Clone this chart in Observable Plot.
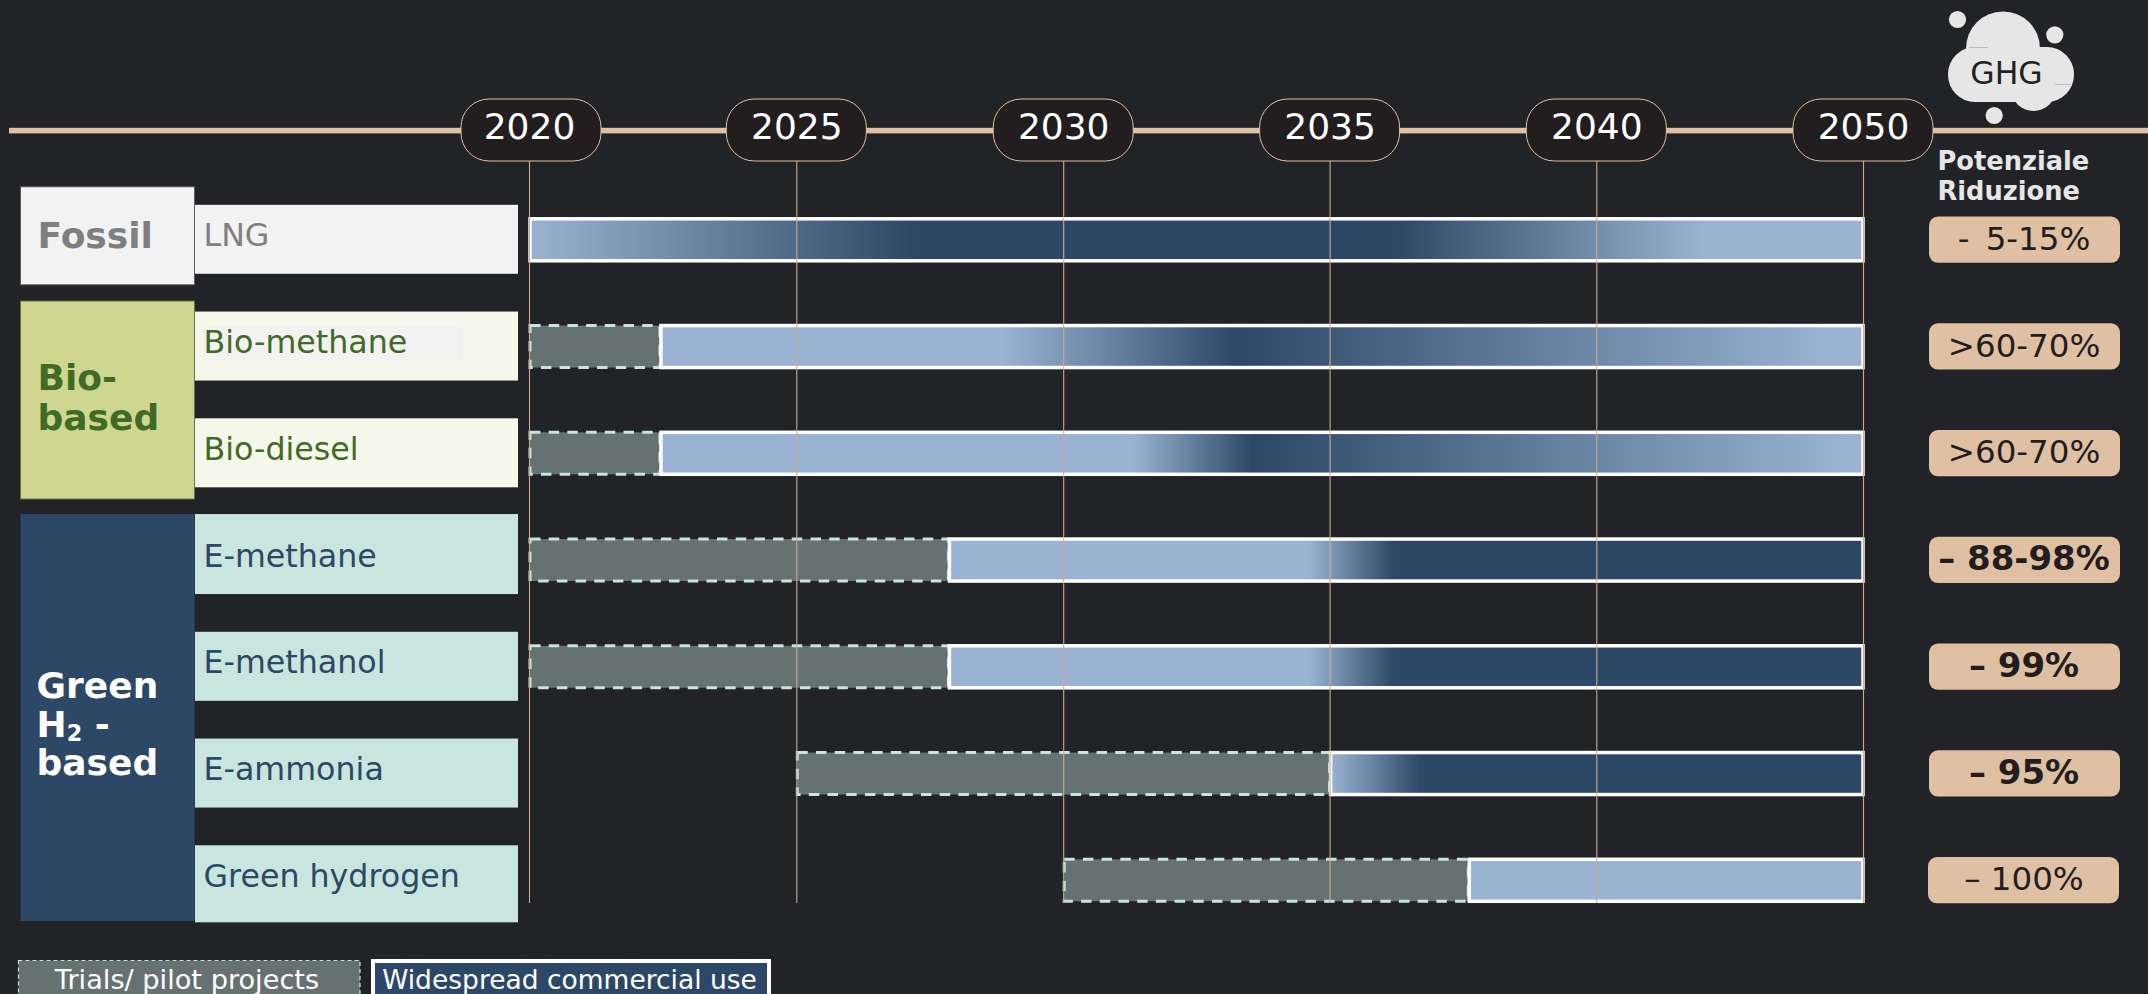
<!DOCTYPE html>
<html>
<head>
<meta charset="utf-8">
<script src="https://cdn.jsdelivr.net/npm/d3@7"></script>
<script src="https://cdn.jsdelivr.net/npm/@observablehq/plot@0.6"></script>
<style>
  html, body { margin: 0; padding: 0; background: #222327; overflow: hidden; }
  svg { display: block; }
</style>
</head>
<body>
<script>
// Roadmap of marine fuels: when each one moves from pilots to commercial use.
const tickYears = [2020, 2025, 2030, 2035, 2040, 2050];
const fuels = ["LNG", "Bio-methane", "Bio-diesel", "E-methane", "E-methanol", "E-ammonia", "Green hydrogen"];
const fuelGroups = ["fossil", "bio", "bio", "green", "green", "green", "green"];
const pilotStart = [null, 2020, 2020, 2020, 2020, 2025, 2030];
const commercialStart = [2020, 2022.45, 2022.45, 2027.85, 2027.85, 2035, 2037.6];
const commercialEnd = 2050;
const reductions = ["-\u20025-15%", ">60-70%", ">60-70%", "– 88-98%", "– 99%", "– 95%", "– 100%"];
const strongReduction = [false, false, false, true, true, true, false];

// Shade along each commercial bar: [year, 0 = light, 1 = dark]
const shadeStops = [
  [[2020, 0], [2027.2, 1], [2036.25, 1], [2044.05, 0], [2050, 0]],
  [[2022.45, 0], [2028.85, 0], [2033.25, 1], [2048.75, 0], [2050, 0]],
  [[2022.45, 0], [2031.3, 0], [2033.55, 1], [2049.4, 0], [2050, 0]],
  [[2027.85, 0], [2034.6, 0], [2036.2, 1], [2050, 1]],
  [[2027.85, 0], [2034.6, 0], [2036.2, 1], [2050, 1]],
  [[2035, 0], [2036.7, 1], [2050, 1]],
  [[2037.6, 0], [2050, 0]]
];

const W = 2148, H = 994;
const BG = "#222327", TAN = "#dfc0a2", LIGHT = "#9ab3d3", DARK = "#2d4866";
const CLOUD = "#e7e6e6";

const groupStyle = {
  fossil: {box: "#f2f2f2", row: "#f2f2f2", ink: "#7f7f7f"},
  bio: {box: "#cfd68f", row: "#f5f7ea", ink: "#3f6b27"},
  green: {box: "#2d4866", row: "#c9e6de", ink: "#2d4866"}
};

const rows = fuels.map((fuel, row) => ({
  fuel, row,
  ink: groupStyle[fuelGroups[row]].ink,
  rowFill: groupStyle[fuelGroups[row]].row,
  pilot: pilotStart[row],
  start: commercialStart[row],
  end: commercialEnd,
  reduction: reductions[row],
  strong: strongReduction[row]
}));
const pilots = rows.filter(d => d.pilot != null);

// Box spanning the frame horizontally between two insets, anchored on rows.
const rowPanel = (rowA, rowB, above, below, left, right, options) =>
  Plot.rect([0], {y1: () => rowA, y2: () => rowB, insetTop: -above, insetBottom: -below,
    insetLeft: left, insetRight: W - right, ...options});

// Box placed on the page by its insets only.
const pagePanel = (left, right, top, bottom, options) =>
  Plot.rect([0], {insetLeft: left, insetRight: W - right, insetTop: top, insetBottom: H - bottom, ...options});

// Text placed on the page by its anchor point and baseline.
const pageText = (text, x, baseline, size, options) =>
  Plot.text([text], {text: d => d, frameAnchor: "top-left", lineAnchor: "middle", dx: x,
    dy: baseline - size * 0.32, fontSize: size, ...options});

const cloudDot = (x, y, r) => Plot.dot([0], {frameAnchor: "top-left", dx: x, dy: y, r, fill: CLOUD});

const labelSpan = i => (i === 3 ? [46, 34] : i === 6 ? [35, 42] : [35, 34]);

const chart = Plot.plot({
  width: W,
  height: H,
  margin: 0,
  style: {background: BG, fontFamily: "DejaVu Sans"},
  x: {type: "linear", domain: tickYears, range: [529, 796.3, 1063.2, 1329.6, 1596.3, 1863], axis: null},
  y: {type: "linear", domain: [0, 6], range: [239.8, 880.3], axis: null},
  color: {type: "identity"},
  marks: [
    // Timeline header band
    pagePanel(9, W, 127.8, 133.4, {fill: TAN}),

    // Group boxes
    rowPanel(0, 0, 53, 45, 20.5, 194.5, {fill: groupStyle.fossil.box, stroke: "#5c5c5c", strokeWidth: 1}),
    rowPanel(1, 2, 45.5, 45.7, 20.5, 194.5, {fill: groupStyle.bio.box, stroke: "#6d7050", strokeWidth: 1}),
    rowPanel(3, 6, 46, 40.7, 20.5, 194.5, {fill: groupStyle.green.box}),

    // Fuel name boxes
    ...rows.map((d, i) => rowPanel(i, i, labelSpan(i)[0], labelSpan(i)[1], 195, 518, {fill: d.rowFill})),
    rowPanel(1, 1, 20.5, 14.5, 203, 463, {fill: "#f2f2f2"}),
    Plot.text(rows, {y: "row", text: "fuel", fill: "ink", frameAnchor: "left", dx: 203, dy: 6 - 31.7 * 0.32, fontSize: 31.7}),

    // Group names
    pageText("Fossil", 37, 247, 36, {fill: groupStyle.fossil.ink, fontWeight: 700, textAnchor: "start"}),
    Plot.text(["Bio-\nbased"], {text: d => d, y: () => 1.5, frameAnchor: "left", dx: 37, dy: -3, fontSize: 36,
      lineHeight: 1.11, fontWeight: 700, fill: groupStyle.bio.ink, textAnchor: "start"}),
    Plot.text(["Green\nH₂ -\nbased"], {text: d => d, y: () => 4.5, frameAnchor: "left", dx: 36, dy: 3.5, fontSize: 36,
      lineHeight: 1.07, fontWeight: 700, fill: "#ffffff", textAnchor: "start"}),

    // Pilot phase
    Plot.rect(pilots, {x1: "pilot", x2: "start", y1: "row", y2: "row", insetTop: -21, insetBottom: -21, insetLeft: 1,
      fill: "#667271", stroke: "#c5e5dd", strokeWidth: 3, strokeDasharray: "10.5 8.2"}),

    // Commercial phase, shaded by the gradients defined below
    ...rows.map((d, i) => Plot.rect([d], {x1: "start", x2: "end", y1: "row", y2: "row", insetTop: -21, insetBottom: -21,
      insetLeft: 1, fill: `url(#shade-${i})`, stroke: "#ffffff", strokeWidth: 3.5})),

    // Year gridlines
    Plot.ruleX(tickYears, {insetTop: 161, insetBottom: H - 903, stroke: "#c9ad93", strokeWidth: 1.1}),

    // Year pills
    ...tickYears.map(year => Plot.rect([year], {x1: d => d, x2: d => d, dx: year === 2020 ? 2 : 0, insetLeft: -70, insetRight: -70,
      insetTop: 99, insetBottom: H - 161, rx: 28, fill: "#221e1f", stroke: TAN, strokeWidth: 1})),
    Plot.text(tickYears, {x: d => d, text: d => String(d), frameAnchor: "top", lineAnchor: "middle",
      dy: 138 - 36 * 0.32, fontSize: 36, fill: "#ffffff"}),

    // Emission reduction column
    pageText("Potenziale", 1937, 169, 25.7, {fontWeight: 700, fill: CLOUD, textAnchor: "start"}),
    pageText("Riduzione", 1937, 199, 25.7, {fontWeight: 700, fill: CLOUD, textAnchor: "start"}),
    ...rows.map((d, i) => rowPanel(i, i, 23.3, 23, i === 6 ? 1928 : 1929, i === 6 ? 2119 : 2120, {fill: "#dfc0a2", rx: 9})),
    Plot.text(rows.filter(d => !d.strong), {y: "row", text: "reduction", frameAnchor: "left", dx: 2023.5, dy: 9.5 - 32.5 * 0.32,
      textAnchor: "middle", fontSize: 32.5, fill: "#221e1f"}),
    Plot.text(rows.filter(d => d.strong), {y: "row", text: "reduction", frameAnchor: "left", dx: 2023.5, dy: 9.5 - 34 * 0.32,
      textAnchor: "middle", fontSize: 34, fontWeight: 700, fill: "#221e1f"}),

    // GHG cloud icon
    cloudDot(1957, 19, 8.6), cloudDot(2054.3, 34.3, 8.6), cloudDot(1993.7, 115, 8.6),
    cloudDot(2002.5, 48, 37), cloudDot(2033, 88, 22.5),
    pagePanel(1948, 2074, 47, 102, {fill: CLOUD, rx: 27}),
    pagePanel(1969, 1988, 47.2, 48, {fill: "#b5b5b5"}),
    pagePanel(2055, 2071, 84, 84.8, {fill: "#b5b5b5"}),
    pageText("GHG", 2006, 83, 31.5, {fill: "#222222", textAnchor: "middle"}),

    // Legend, running off the lower edge of the page
    pagePanel(18.5, 360, 960.5, H + 12, {fill: "#667271", stroke: "#c5e5dd", strokeWidth: 1.2, strokeDasharray: "4 3"}),
    pageText("Trials/ pilot projects", 186.5, 988, 27.2, {fill: "#ffffff", textAnchor: "middle"}),
    pagePanel(373, 769, 961, H + 12, {fill: DARK, stroke: "#ffffff", strokeWidth: 4}),
    pageText("Widespread commercial use", 569, 988, 26.5, {fill: "#ffffff", textAnchor: "middle"})
  ]
});

// Gradients follow the chart's own x scale, so each stop lands on its year.
const xAt = chart.scale("x").apply;
const defs = d3.select(chart).insert("defs", ":first-child");
rows.forEach((d, i) => {
  const x0 = xAt(d.start), x1 = xAt(d.end);
  const gradient = defs.append("linearGradient").attr("id", `shade-${i}`);
  for (const [year, shade] of shadeStops[i]) {
    gradient.append("stop")
      .attr("offset", (xAt(year) - x0) / (x1 - x0))
      .attr("stop-color", shade ? DARK : LIGHT);
  }
});

// Set the subscript of H₂ at a readable size.
d3.select(chart).selectAll("tspan")
  .filter(function () { return this.textContent.includes("₂"); })
  .each(function () {
    const line = d3.select(this).text("H");
    line.append("tspan").attr("font-size", "0.62em").attr("dy", "0.2em").text("2");
    line.append("tspan").attr("dy", "-0.12em").text(" -");
  });

document.body.appendChild(chart);
</script>
</body>
</html>
